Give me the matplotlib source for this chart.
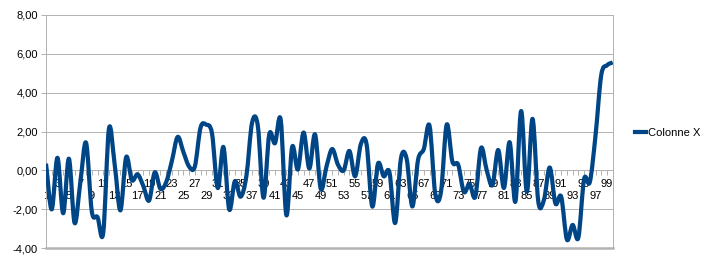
import matplotlib
matplotlib.use("Agg")
import matplotlib.pyplot as plt
import numpy as np
from matplotlib.path import Path
from matplotlib.patches import PathPatch
from matplotlib.lines import Line2D

categories = list(range(1, 101))
colonne_x = [
    0.35, -2.0, 0.65, -2.2, 0.6, -2.7, -0.6, 1.42, -2.1, -2.4,
    -3.2, 2.15, 0.3, -2.05, 0.68, -0.5, -0.2, -0.8, -1.55, -0.1,
    -0.95, -0.6, 0.5, 1.72, 0.95, 0.2, 0.2, 2.2, 2.35, 1.9,
    -0.9, 1.2, -2.0, -0.55, -1.35, -0.3, 2.45, 2.3, -1.4, 1.85,
    1.4, 2.6, -2.3, 1.2, 0.05, 1.95, 0.1, 1.85, -0.95, 0.2,
    1.1, 0.3, 0.0, 1.0, -0.3, 1.35, 1.35, -1.85, 0.35, -0.3,
    -0.1, -2.7, 0.6, 0.6, -1.85, 0.55, 1.1, 2.3, -1.2, -1.1,
    2.35, 0.45, 0.3, -1.1, -0.7, -1.35, 1.15, 0.0, -0.75, 1.05,
    -0.9, 1.45, -1.6, 3.05, -1.1, 2.65, -1.6, -1.5, 0.15, -1.7,
    -1.35, -3.55, -2.8, -3.45, -0.45, -0.6, 1.8, 4.9, 5.4, 5.55,
]
y_ticks = [-4, -2, 0, 2, 4, 6, 8]
series_name = "Colonne X"

LINE_COLOR = "#004586"
GRID_COLOR = "#b3b3b3"
W, H = 703, 268


def px(n):
    # pixels -> points at dpi 100
    return n * 72 / 100


def smooth_path(x, y):
    # catmull-rom style curve through the points, as bezier segments
    x = np.asarray(x, float)
    y = np.asarray(y, float)
    n = len(y)
    d = np.zeros(n)
    d[1:-1] = (y[2:] - y[:-2]) / (x[2:] - x[:-2])
    d[0] = (y[1] - y[0]) / (x[1] - x[0])
    d[-1] = (y[-1] - y[-2]) / (x[-1] - x[-2])
    verts = [(x[0], y[0])]
    codes = [Path.MOVETO]
    for i in range(n - 1):
        h = x[i + 1] - x[i]
        verts += [
            (x[i] + h / 3, y[i] + d[i] * h / 3),
            (x[i + 1] - h / 3, y[i + 1] - d[i + 1] * h / 3),
            (x[i + 1], y[i + 1]),
        ]
        codes += [Path.CURVE4] * 3
    return Path(verts, codes)


plt.rcParams.update({
    "font.family": ["Liberation Sans", "DejaVu Sans"],
    "font.size": 8,
})

fig = plt.figure(figsize=(W / 100, H / 100), dpi=100)
ax = fig.add_axes([46 / W, 1 - 248.3 / H, (612.7 - 46) / W, (248.3 - 14.7) / H])

ax.add_patch(PathPatch(smooth_path(categories, colonne_x), fill=False,
                       edgecolor=LINE_COLOR, linewidth=px(4.2),
                       capstyle="butt", joinstyle="round", zorder=3))

ax.set_xlim(1, 100)
ax.set_ylim(-4, 8)

ax.set_yticks(y_ticks)
ax.set_yticklabels([f"{v:.2f}".replace(".", ",") for v in y_ticks])
ax.yaxis.grid(True, color=GRID_COLOR, linewidth=px(1))
ax.set_axisbelow(True)

labels = []
for k in categories:
    if k % 2 == 0:
        labels.append("")
    elif k % 4 == 3:
        labels.append(str(k))
    else:
        labels.append("\n" + str(k))
ax.set_xticks(categories)
ax.set_xticklabels(labels, linespacing=1.25)

ax.spines["top"].set_visible(False)
ax.spines["bottom"].set_position(("data", 0))
for side in ("bottom", "left", "right"):
    ax.spines[side].set_color(GRID_COLOR)
    ax.spines[side].set_linewidth(px(1))
ax.axhline(-4, color=GRID_COLOR, linewidth=px(2.5), clip_on=False, zorder=2)

ax.tick_params(axis="x", direction="out", length=px(5), width=px(1),
               color=GRID_COLOR, pad=px(4), labelsize=8)
ax.tick_params(axis="y", direction="out", length=px(5), width=px(1),
               color=GRID_COLOR, pad=px(3), labelsize=8)

handle = Line2D([], [], color=LINE_COLOR, linewidth=px(4.2))
fig.legend([handle], [series_name], loc="center left",
           bbox_to_anchor=(629 / W, 1 - 133 / H), frameon=False,
           handlelength=1.0, handletextpad=0.2, borderpad=0, fontsize=8)

fig.savefig("out.png", dpi=100)
